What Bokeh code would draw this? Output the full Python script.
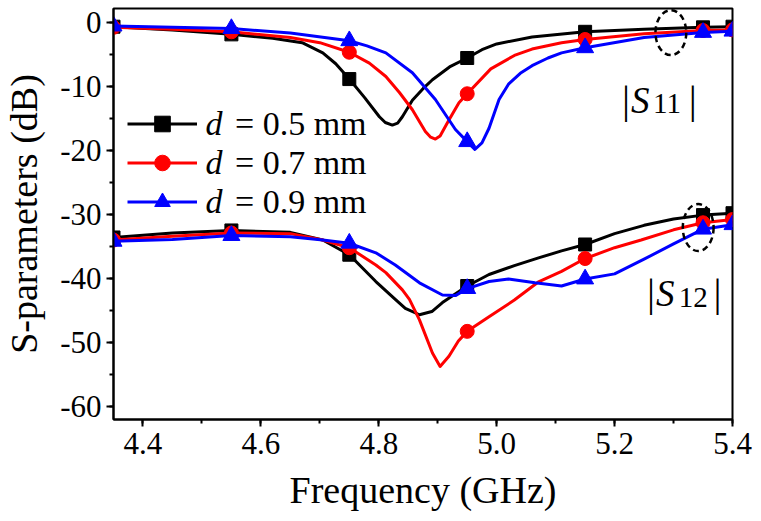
import numpy as np
from bokeh.plotting import figure
from bokeh.models import (Range1d, SingleIntervalTicker, PrintfTickFormatter, Legend, LegendItem, Label)
from bokeh.embed import file_html
from bokeh.resources import INLINE

# ---------------- data ----------------
f_s11_05 = [4.35, 4.45, 4.55, 4.62, 4.67, 4.705, 4.727, 4.75, 4.776, 4.801, 4.811, 4.823, 4.832, 4.84,
            4.857, 4.875, 4.891, 4.92, 4.95, 4.975, 5.00, 5.06, 5.15, 5.25, 5.35, 5.40]
s11_05 = [-0.6, -1.1, -1.8, -2.4, -3.1, -4.7, -6.4, -8.8, -11.7, -14.7, -15.6, -16.0, -15.7, -14.7,
          -12.1, -10.3, -8.9, -6.9, -5.5, -4.2, -3.3, -2.2, -1.4, -1.0, -0.7, -0.6]

f_s11_07 = [4.35, 4.45, 4.55, 4.65, 4.70, 4.75, 4.784, 4.812, 4.835, 4.857, 4.879, 4.888, 4.896, 4.904,
            4.919, 4.936, 4.95, 4.99, 5.03, 5.06, 5.11, 5.15, 5.25, 5.35, 5.40]
s11_07 = [-0.7, -1.0, -1.4, -2.3, -3.1, -4.6, -6.3, -8.4, -10.9, -13.6, -17.0, -17.9, -18.2, -17.7,
          -15.2, -12.5, -11.1, -7.2, -5.1, -4.1, -3.1, -2.6, -1.7, -1.2, -1.1]

f_s11_09 = [4.35, 4.45, 4.55, 4.65, 4.75, 4.78, 4.812, 4.857, 4.896, 4.93, 4.95, 4.963, 4.975, 4.987,
            5.004, 5.02, 5.04, 5.06, 5.087, 5.11, 5.15, 5.25, 5.35, 5.40]
s11_09 = [-0.5, -0.7, -0.9, -1.6, -2.8, -3.6, -4.7, -7.8, -12.0, -16.7, -18.6, -19.8, -18.8, -16.5,
          -12.0, -9.6, -7.9, -6.7, -5.5, -4.7, -3.9, -2.3, -1.5, -1.3]

f_s12_05 = [4.35, 4.45, 4.55, 4.65, 4.705, 4.75, 4.795, 4.828, 4.845, 4.869, 4.89, 4.908, 4.95, 4.987,
            5.03, 5.071, 5.11, 5.15, 5.20, 5.25, 5.30, 5.35, 5.40]
s12_05 = [-33.6, -32.9, -32.5, -32.8, -34.0, -36.3, -40.5, -43.3, -44.7, -45.7, -45.2, -43.8, -41.2, -39.4,
          -38.0, -36.8, -35.7, -34.7, -33.0, -31.7, -30.7, -30.1, -29.8]

f_s12_07 = [4.35, 4.45, 4.55, 4.65, 4.705, 4.75, 4.795, 4.812, 4.84, 4.852, 4.869, 4.891, 4.904, 4.919,
            4.935, 4.95, 4.987, 5.03, 5.07, 5.11, 5.15, 5.20, 5.245, 5.30, 5.35, 5.40]
s12_07 = [-34.0, -33.4, -32.9, -33.0, -34.0, -35.2, -37.9, -39.1, -41.8, -43.3, -46.5, -51.7, -53.8, -52.2,
          -49.8, -48.3, -46.0, -43.4, -40.6, -38.9, -36.9, -35.2, -34.0, -32.4, -31.3, -30.8]

f_s12_09 = [4.35, 4.45, 4.55, 4.65, 4.705, 4.75, 4.795, 4.828, 4.869, 4.908, 4.93, 4.95, 4.987, 5.02,
            5.065, 5.11, 5.15, 5.20, 5.25, 5.30, 5.35, 5.40]
s12_09 = [-34.2, -33.9, -33.3, -33.5, -34.0, -34.5, -36.0, -37.9, -40.7, -42.6, -42.7, -41.6, -40.5, -40.1,
          -40.7, -41.2, -40.1, -39.3, -37.0, -34.6, -32.3, -31.6]

marker_freqs = [4.35, 4.55, 4.75, 4.95, 5.15, 5.35, 5.40]

legend_labels = ["= 0.5 mm", "= 0.7 mm", "= 0.9 mm"]
x_ticks_interval = 0.2
y_ticks_interval = 10

FONT = "Liberation Serif"

# pixel helpers for annotation placement (reference pixel geometry)
def dx(px):
    return 4.4 + (px - 139) / 593.0

def dy(py):
    return -(py - 22.7) / 6.39

p = figure(width=761, height=521, output_backend="svg", toolbar_location=None,
           x_range=Range1d(4.35, 5.4), y_range=Range1d(-62.1, 2.25),
           min_border_left=109, min_border_right=29, min_border_top=8, min_border_bottom=102)
p.background_fill_color = "white"
p.border_fill_color = "white"
p.outline_line_color = "black"
p.outline_line_width = 2
p.xgrid.visible = False
p.ygrid.visible = False

p.xaxis.ticker = SingleIntervalTicker(interval=x_ticks_interval, num_minor_ticks=2)
p.yaxis.ticker = SingleIntervalTicker(interval=y_ticks_interval, num_minor_ticks=2)
p.xaxis.formatter = PrintfTickFormatter(format="%.1f")
p.yaxis.formatter = PrintfTickFormatter(format="%d")
p.xaxis.axis_label = "Frequency (GHz)"
p.yaxis.axis_label = "S-parameters (dB)"

p.axis.axis_line_width = 2
p.axis.major_tick_line_width = 2
p.axis.minor_tick_line_width = 2
p.axis.major_tick_out = 7
p.axis.major_tick_in = 0
p.axis.minor_tick_out = 4
p.axis.minor_tick_in = 0
p.axis.major_label_text_color = "black"
p.axis.axis_label_text_color = "black"
p.axis.axis_label_text_font_style = "normal"
p.axis.major_label_text_font_size = "31px"
p.axis.axis_label_text_font_size = "38px"
p.axis.major_label_text_font = FONT
p.axis.axis_label_text_font = FONT

p.xaxis.major_label_standoff = 6
p.yaxis.major_label_standoff = 5
p.xaxis.axis_label_standoff = 12
p.yaxis.axis_label_standoff = 12

series = [
    ("#000000", "square", 13, [(f_s11_05, s11_05), (f_s12_05, s12_05)]),
    ("#FF0000", "circle", 14, [(f_s11_07, s11_07), (f_s12_07, s12_07)]),
    ("#0000FF", "triangle", 17, [(f_s11_09, s11_09), (f_s12_09, s12_09)]),
]

items = []
for (color, marker, msize, curves), lab in zip(series, legend_labels):
    rends = []
    for fx, vy in curves:
        fx = np.array(fx)
        vy = np.array(vy)
        ln = p.line(fx, vy, line_color=color, line_width=3, line_join="round")
        mask = np.isin(np.round(fx, 3), np.round(marker_freqs, 3))
        sc = p.scatter(fx[mask], vy[mask], marker=marker, size=msize,
                       fill_color=color, line_color=color)
        rends += [ln, sc]
    items.append(LegendItem(label=lab, renderers=rends[:2]))

ROW = 39
legend = Legend(items=items, location=(14, 198), orientation="vertical",
                glyph_width=70, glyph_height=ROW, label_height=ROW, spacing=0, padding=0, margin=0,
                label_standoff=38, label_text_font=FONT, label_text_font_size="34px",
                label_text_color="black", border_line_alpha=0, background_fill_alpha=0)
p.add_layout(legend, "center")

# italic "d" in front of the legend labels (same vertical centre as the legend rows)
for row_c in (123.5, 123.5 + ROW, 123.5 + 2 * ROW):
    p.add_layout(Label(x=dx(202), y=dy(row_c), text="d", text_font=FONT, text_font_size="34px",
                       text_font_style="italic", text_color="black",
                       text_align="left", text_baseline="middle"))

# |S11| and |S12| labels
def s_label(bar1, s_left, sub_left, bar2, base, sub_base, sub):
    p.add_layout(Label(x=dx(bar1), y=dy(base - 1), text="|", text_font=FONT, text_font_size="40px",
                       text_align="center", text_baseline="alphabetic", text_color="black"))
    p.add_layout(Label(x=dx(s_left), y=dy(base), text="S", text_font=FONT, text_font_size="37px",
                       text_font_style="italic", text_align="left", text_baseline="alphabetic",
                       text_color="black"))
    p.add_layout(Label(x=dx(sub_left), y=dy(sub_base), text=sub, text_font=FONT, text_font_size="29px",
                       text_align="left", text_baseline="alphabetic", text_color="black"))
    p.add_layout(Label(x=dx(bar2), y=dy(base - 1), text="|", text_font=FONT, text_font_size="40px",
                       text_align="center", text_baseline="alphabetic", text_color="black"))

s_label(625, 630, 652, 692, 100, 103, "11")
s_label(650, 655, 678, 717, 293, 297, "12")

# dashed ellipses marking the curve groups
ell_x = [dx(670), dx(697.5)]
ell_y = [dy(32.5), dy(227.5)]
p.ellipse(x=ell_x, y=ell_y, width=[31 / 593.0, 31 / 593.0], height=[45 / 6.39, 47 / 6.39],
          fill_alpha=0, line_color="black", line_width=2.5, line_dash="6 4")

open("out.html", "w").write(file_html(p, INLINE))
